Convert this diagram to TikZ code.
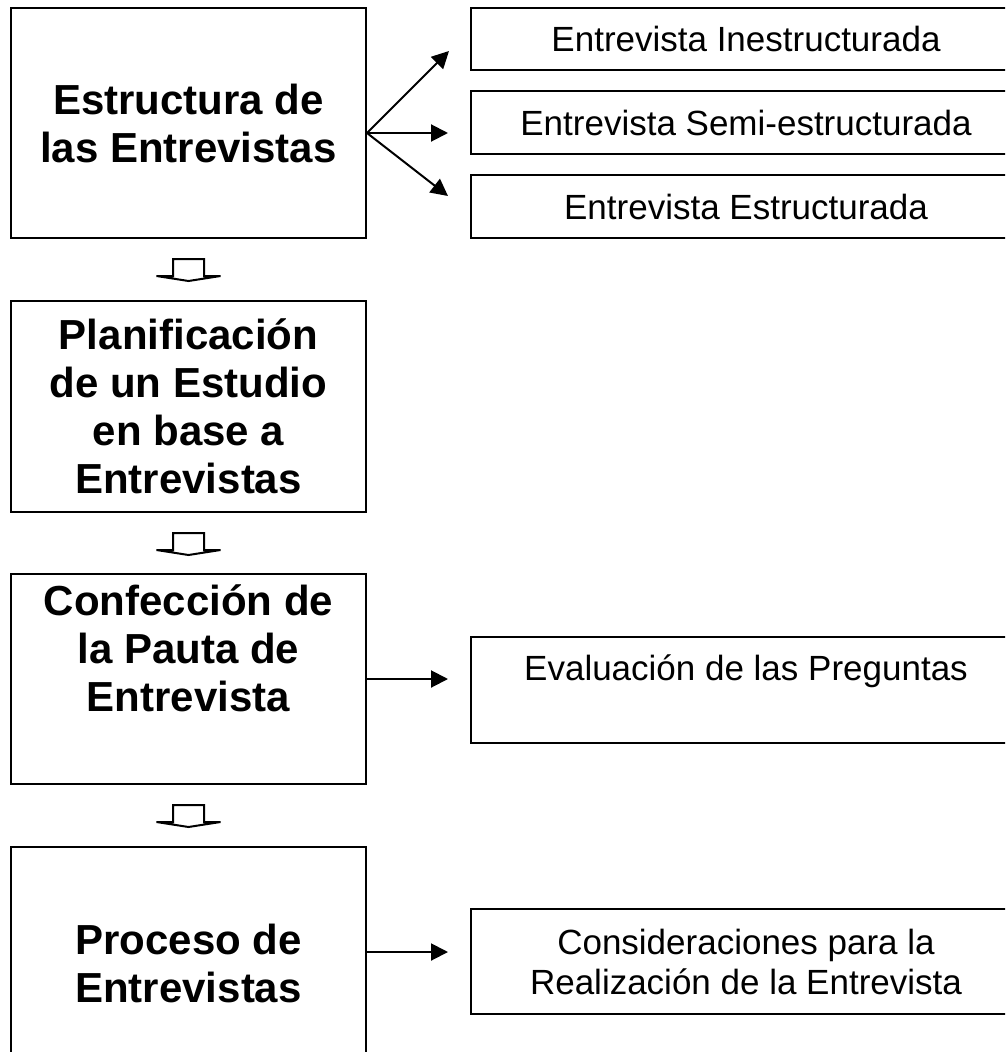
\documentclass[tikz,border=0pt]{standalone}
\usepackage{fontspec}
\setmainfont{Liberation Sans}
\usetikzlibrary{arrows.meta, positioning, calc}

\begin{document}
\begin{tikzpicture}[
                line join=miter,
                bigtext/.style={align=center, font=\fontsize{42}{48}\selectfont\bfseries},
                sidetext/.style={align=center, font=\fontsize{35}{40}\selectfont},
                bigbox/.style={shape=rectangle, draw=black, line width=2pt, minimum width=355pt, anchor=north west, bigtext},
                sidebox/.style={shape=rectangle, draw=black, line width=2pt, minimum width=550pt, anchor=north west, sidetext},
                thinarrow/.style={-{Triangle[length=17pt, width=17pt]}, line width=2pt},
                hollowarrow/.style={draw=black, fill=white, line width=2pt}
                ]
                %% Page
                \useasboundingbox (0pt, 0pt) rectangle (1005pt, -1052pt);
                \clip (0pt, 0pt) rectangle (1005pt, -1052pt);

                %% Left column
                \node[bigbox, minimum height=230pt] (estructura) at (10pt, -7pt) {Estructura de\\las Entrevistas};
                \node[bigbox, minimum height=211pt] (planificacion) at (10pt, -300pt) {Planificación\\de un Estudio\\en base a\\Entrevistas};
                \node[bigbox, minimum height=210pt, label={[bigtext, yshift=31pt]center:Confección de\\la Pauta de\\Entrevista}] (confeccion) at (10pt, -573pt) {};
                \node[bigbox, minimum height=232pt] (proceso) at (10pt, -846pt) {Proceso de\\Entrevistas};

                %% Right column
                \node[sidebox, minimum height=62pt] (inestructurada) at (470pt, -7pt) {Entrevista Inestructurada};
                \node[sidebox, minimum height=63pt] (semi) at (470pt, -90pt) {Entrevista Semi-estructurada};
                \node[sidebox, minimum height=63pt] (estructurada) at (470pt, -174pt) {Entrevista Estructurada};
                \node[sidebox, minimum height=106pt, label={[sidetext, yshift=19pt]center:Evaluación de las Preguntas}] (evaluacion) at (470pt, -636pt) {};
                \node[sidebox, minimum height=105pt] (consideraciones) at (470pt, -908pt) {Consideraciones para la\\Realización de la Entrevista};

                %% Arrows to the right
                \coordinate (origin) at ([yshift=-10pt]estructura.east);
                \draw[thinarrow] (origin) -- ([shift={(-21pt,-12pt)}]inestructurada.west);
                \draw[thinarrow] (origin) -- ($(origin -| semi.west)+(-22pt,0)$);
                \draw[thinarrow] (origin) -- ([shift={(-22pt,10.5pt)}]estructurada.west);
                \draw[thinarrow] (confeccion.east) -- ($(confeccion.east -| evaluacion.west)+(-22pt,0)$);
                \draw[thinarrow] ([yshift=11pt]proceso.east) -- ($([yshift=11pt]proceso.east -| consideraciones.west)+(-22pt,0)$);

                %% Hollow arrows down
                \foreach \a in {estructura, planificacion, confeccion} {
                    \draw[hollowarrow] ([shift={(-15.5pt,-20pt)}]\a.south) -- ([shift={(15.5pt,-20pt)}]\a.south)
                        -- ([shift={(15.5pt,-37pt)}]\a.south) -- ([shift={(32pt,-37pt)}]\a.south)
                        -- ([shift={(0pt,-42pt)}]\a.south) -- ([shift={(-32pt,-37pt)}]\a.south)
                        -- ([shift={(-15.5pt,-37pt)}]\a.south) -- cycle;
                }
\end{tikzpicture}
\end{document}
